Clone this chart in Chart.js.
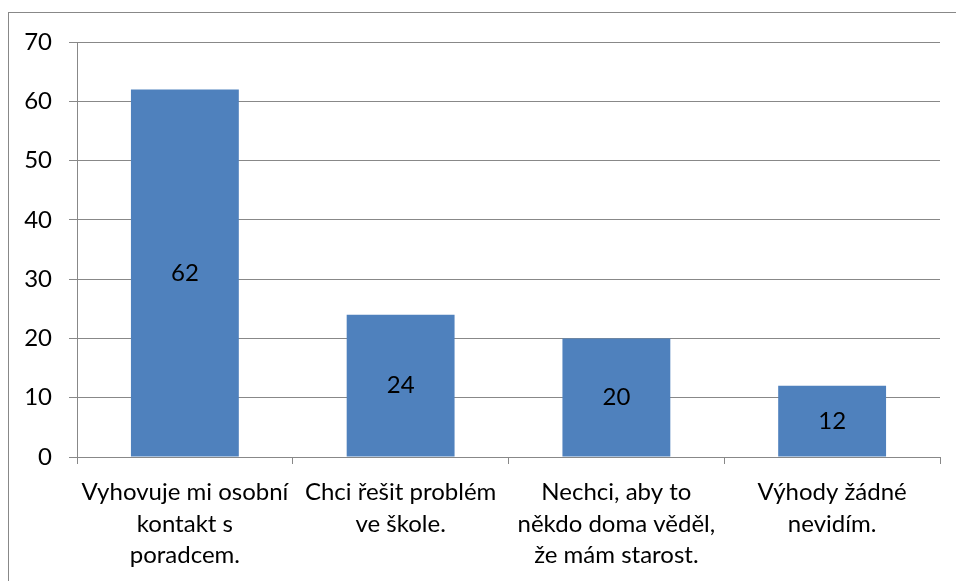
<!DOCTYPE html>
<html>
<head>
<meta charset="utf-8">
<script src="https://cdn.jsdelivr.net/npm/chart.js@4"></script>
<style>
  html, body { margin: 0; padding: 0; background: #fff; overflow: hidden; }
  #frame { position: absolute; left: 8px; top: 12px; width: 2000px; height: 2000px;
           border-left: 1px solid #888; border-top: 1px solid #888; }
  #wrap { position: absolute; left: 0; top: 0; width: 956px; height: 581px; }
</style>
</head>
<body>
<div id="frame"></div>
<div id="wrap"><canvas id="barChart" width="956" height="581"></canvas></div>
<script>
// categories (already split into lines the way the original wraps them)
var categories = [
  ["Vyhovuje mi osobní", "kontakt s", "poradcem."],
  ["Chci řešit problém", "ve škole."],
  ["Nechci, aby to", "někdo doma věděl,", "že mám starost."],
  ["Výhody žádné", "nevidím."]
];
var values = [62, 24, 20, 12];
var yTicks = [0, 10, 20, 30, 40, 50, 60, 70];

var fontFamily = "Lato, 'Open Sans', sans-serif";
var fontSize = 24;
var gridColor = "#888888";

// draws the value in the middle of every bar
var barValues = {
  id: 'barValues',
  afterDatasetsDraw: function (chart) {
    let ctx = chart.ctx;
    let meta = chart.getDatasetMeta(0);
    ctx.save();
    ctx.fillStyle = "#000";
    ctx.font = fontSize + "px " + fontFamily;
    ctx.textAlign = "center";
    ctx.textBaseline = "middle";
    meta.data.forEach(function (bar, i) {
      let mid = (bar.y + bar.base) / 2;
      ctx.fillText(values[i], bar.x, mid);
    });
    ctx.restore();
  }
};

new Chart(document.getElementById('barChart'), {
  type: 'bar',
  data: {
    labels: categories,
    datasets: [{
      data: values,
      backgroundColor: "#4F81BD",
      borderWidth: 0,
      barPercentage: 0.5,
      categoryPercentage: 1.0
    }]
  },
  options: {
    responsive: false,
    animation: false,
    layout: { padding: { left: 0, top: 42, right: 16, bottom: 0 } },
    plugins: { legend: { display: false }, tooltip: { enabled: false } },
    scales: {
      x: {
        offset: true,
        afterFit: function (s) { s.height = 124; },
        grid: { offset: true, drawOnChartArea: false, drawTicks: true, tickLength: 7, color: gridColor },
        border: { color: gridColor },
        ticks: {
          color: "#000",
          font: { family: fontFamily, size: fontSize, lineHeight: 1.3 },
          padding: 13,
          maxRotation: 0,
          autoSkip: false
        }
      },
      y: {
        min: 0,
        max: 70,
        afterFit: function (s) { s.width = 77; },
        afterBuildTicks: function (s) { s.ticks = yTicks.map(v => ({ value: v })); },
        grid: { color: gridColor, tickLength: 8 },
        border: { color: gridColor },
        ticks: {
          color: "#000",
          font: { family: fontFamily, size: fontSize },
          padding: 17
        }
      }
    }
  },
  plugins: [barValues]
});
</script>
</body>
</html>
